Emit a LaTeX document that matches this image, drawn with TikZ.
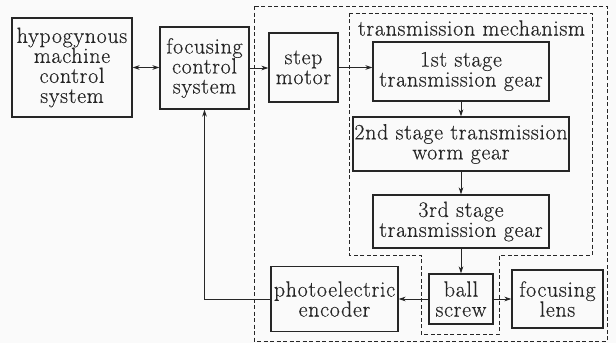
\documentclass[tikz,border=0pt]{standalone}
\usepackage{fontspec}
\setmainfont{Latin Modern Roman}[FakeBold=0.35, LetterSpace=3]
\usetikzlibrary{arrows.meta}
\definecolor{ink}{HTML}{262626}
\definecolor{paper}{HTML}{FAFAFA}
\begin{document}
\begin{tikzpicture}[x=1pt,y=-1pt,
  every node/.style={font=\fontsize{22}{20}\selectfont, text=ink},
  blk/.style={draw=ink, line width=1.1pt, inner sep=0pt, align=center},
  link/.style={draw=ink, line width=0.9pt, -{Stealth[length=7pt,width=4.5pt,inset=2pt]}},
  duallink/.style={link, {Stealth[length=7pt,width=4.5pt,inset=2pt]}-{Stealth[length=7pt,width=4.5pt,inset=2pt]}},
  frame/.style={draw=ink, line width=0.9pt, dash pattern=on 4pt off 2.5pt}]
  % canvas
  \fill[paper] (0,0) rectangle (616,343);
  \useasboundingbox (0,0) rectangle (616,343);

  % dashed groupings: focusing unit and the gear train
  \draw[frame] (254,6) rectangle (607,341);
  \draw[frame] (349,13) -- (592,13) -- (592,255) -- (499,255) -- (499,334)
               -- (421,334) -- (421,255) -- (349,255) -- cycle;
  \node (mechlabel) at (471.5,28) {transmission mechanism};

  % blocks
  \node[blk, minimum width=120pt, minimum height=99pt] (hyp)  at (72,67.5)   {hypogynous\\machine\\control\\system};
  \node[blk, minimum width=89pt,  minimum height=82pt] (fcs)  at (204.5,68)  {focusing\\control\\system};
  \node[blk, minimum width=69pt,  minimum height=69pt] (step) at (303.5,67.5){step\\motor};
  \node[blk, minimum width=176pt, minimum height=59pt] (g1)   at (461,71.5)  {1st stage\\transmission gear};
  \node[blk, minimum width=216pt, minimum height=54pt] (g2)   at (461,144)   {2nd stage transmission\\worm gear};
  \node[blk, minimum width=176pt, minimum height=53pt] (g3)   at (461,221.5) {3rd stage\\transmission gear};
  \node[blk, minimum width=64pt,  minimum height=50pt] (ball) at (461,299)   {ball\\screw};
  \node[blk, minimum width=91pt,  minimum height=58pt] (lens) at (557.5,299) {focusing\\lens};
  \node[blk, minimum width=127pt, minimum height=65pt] (enc)  at (334.5,299) {photoelectric\\encoder};

  % connectors
  \draw[duallink] (hyp.east) -- (hyp.east -| fcs.west);
  \draw[link] (fcs.east) -- (fcs.east -| step.west);
  \draw[link] (step.east) -- (step.east -| g1.west);
  \draw[link] (g1.south) -- (g2.north);
  \draw[link] (g2.south) -- (g3.north);
  \draw[link] (g3.south) -- (ball.north);
  \draw[link] (ball.west) -- (ball.west -| enc.east);
  \draw[link] (ball.east) -- (ball.east -| lens.west);
  \draw[link] (enc.west) -| (fcs.south);
\end{tikzpicture}
\end{document}
